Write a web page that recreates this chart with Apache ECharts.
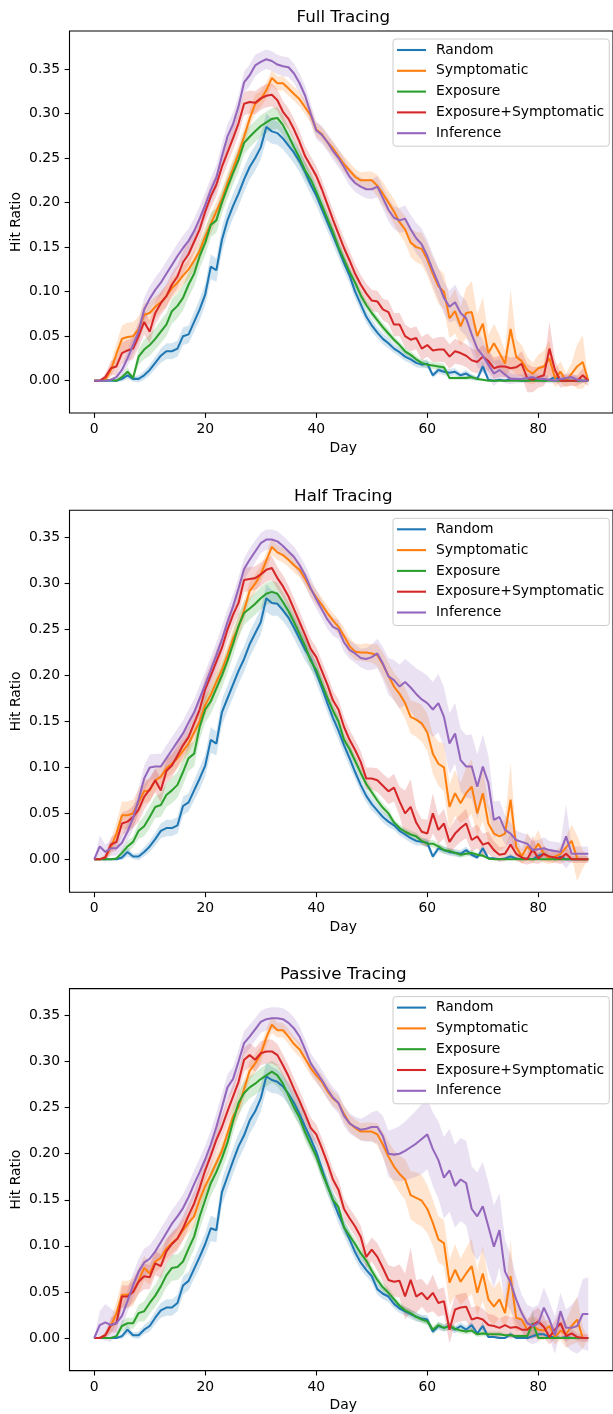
<!DOCTYPE html>
<html><head><meta charset="utf-8">
<script src="https://cdn.jsdelivr.net/npm/echarts@6/dist/echarts.min.js"></script>
<style>html,body{margin:0;padding:0;background:#fff}#c{width:613px;height:1414px}</style>
</head><body><div id="c"></div>
<script>
const days = [0,1,2,3,4,5,6,7,8,9,10,11,12,13,14,15,16,17,18,19,20,21,22,23,24,25,26,27,28,29,30,31,32,33,34,35,36,37,38,39,40,41,42,43,44,45,46,47,48,49,50,51,52,53,54,55,56,57,58,59,60,61,62,63,64,65,66,67,68,69,70,71,72,73,74,75,76,77,78,79,80,81,82,83,84,85,86,87,88,89];
const seriesNames = ['Random','Symptomatic','Exposure','Exposure+Symptomatic','Inference'];
const panelTitles = ['Full Tracing','Half Tracing','Passive Tracing'];
const xTicks = [0,20,40,60,80];
const yTicks = [0,0.05,0.1,0.15,0.2,0.25,0.3,0.35];

// ---------- Full Tracing ----------
const fullRandom = [0,0,0,0,0,0.002,0.006,0.002,0.002,0.006,
0.012,0.02,0.028,0.033,0.033,0.036,0.05,0.052,0.066,0.08,
0.097,0.128,0.124,0.158,0.18,0.196,0.21,0.226,0.24,0.25,
0.262,0.285,0.28,0.278,0.272,0.264,0.256,0.246,0.234,0.22,
0.208,0.193,0.178,0.163,0.148,0.132,0.118,0.1,0.086,0.072,
0.062,0.054,0.047,0.042,0.036,0.032,0.027,0.024,0.02,0.018,
0.019,0.006,0.012,0.01,0.009,0.01,0.006,0.008,0.004,0.002,
0.016,0.001,0,0.001,0,0.002,0.001,0,0,0.001,
0.002,0,0.001,0.004,0.001,0,0,0,0,0];
const fullSym = [0,0,0.001,0.012,0.03,0.047,0.049,0.05,0.058,0.074,
0.076,0.083,0.088,0.095,0.104,0.11,0.118,0.125,0.135,0.146,
0.162,0.176,0.19,0.204,0.222,0.238,0.255,0.274,0.294,0.311,
0.316,0.326,0.34,0.334,0.334,0.328,0.322,0.316,0.307,0.298,
0.282,0.277,0.268,0.261,0.252,0.243,0.236,0.229,0.225,0.225,
0.225,0.219,0.21,0.2,0.19,0.178,0.17,0.155,0.15,0.148,
0.136,0.12,0.106,0.1,0.07,0.078,0.061,0.076,0.077,0.05,
0.064,0.031,0.042,0.031,0.019,0.058,0.027,0.022,0.012,0.008,
0.014,0.016,0.025,0.003,0.01,0,0.008,0.016,0.021,0];
const fullExp = [0,0,0,0.001,0,0.004,0.01,0.003,0.027,0.035,
0.04,0.047,0.055,0.063,0.078,0.084,0.093,0.108,0.12,0.14,
0.155,0.175,0.18,0.2,0.217,0.233,0.248,0.267,0.274,0.28,
0.286,0.29,0.294,0.295,0.287,0.275,0.262,0.25,0.236,0.226,
0.212,0.197,0.182,0.167,0.15,0.136,0.122,0.11,0.096,0.085,
0.076,0.068,0.06,0.053,0.046,0.04,0.033,0.029,0.024,0.02,
0.018,0.017,0.016,0.015,0.003,0.003,0.003,0.003,0.004,0.002,
0.001,0,0,0,0,0,0,0,0,0,
0,0,0,0,0,0,0,0,0,0];
const fullExpSym = [0,0,0.004,0.014,0.016,0.031,0.034,0.036,0.05,0.066,
0.055,0.076,0.087,0.095,0.108,0.117,0.133,0.142,0.156,0.17,
0.19,0.207,0.22,0.24,0.256,0.272,0.289,0.311,0.313,0.312,
0.317,0.32,0.321,0.315,0.302,0.294,0.282,0.268,0.252,0.241,
0.23,0.215,0.198,0.181,0.165,0.149,0.135,0.12,0.108,0.098,
0.09,0.089,0.08,0.077,0.063,0.063,0.05,0.046,0.048,0.036,
0.04,0.034,0.035,0.035,0.027,0.033,0.031,0.028,0.023,0.021,
0.027,0.022,0.014,0.016,0.016,0.014,0.015,0.019,0.003,0.001,
0.004,0.006,0.036,0.012,0,0,0,0,0.006,0];
const fullInf = [0,0,0,0.001,0.004,0.012,0.025,0.04,0.055,0.08,
0.092,0.102,0.11,0.12,0.13,0.14,0.149,0.157,0.168,0.182,
0.197,0.214,0.228,0.252,0.274,0.288,0.308,0.335,0.343,0.354,
0.358,0.361,0.359,0.355,0.353,0.352,0.345,0.334,0.32,0.3,
0.281,0.276,0.268,0.258,0.25,0.24,0.229,0.222,0.218,0.215,
0.215,0.218,0.205,0.192,0.183,0.18,0.182,0.17,0.16,0.153,
0.14,0.124,0.109,0.093,0.083,0.088,0.076,0.07,0.052,0.036,
0.028,0.018,0.008,0.012,0.007,0.002,0.002,0.002,0.003,0.004,
0.002,0.002,0.001,0,0.002,0.003,0.004,0.001,0,0];

const fullRandomErr = [0,0,0,0,0.001,0.003,0.004,0.003,0.004,0.005,
0.006,0.007,0.008,0.009,0.009,0.009,0.01,0.01,0.011,0.012,
0.012,0.014,0.013,0.014,0.014,0.014,0.014,0.014,0.014,0.014,
0.014,0.015,0.014,0.013,0.012,0.012,0.012,0.012,0.012,0.011,
0.011,0.011,0.01,0.01,0.01,0.009,0.009,0.008,0.008,0.007,
0.007,0.006,0.006,0.006,0.005,0.005,0.005,0.005,0.005,0.004,
0.005,0.003,0.004,0.004,0.004,0.004,0.003,0.004,0.003,0.002,
0.006,0.001,0.001,0.001,0.001,0.002,0.001,0.001,0.001,0.001,
0.002,0.001,0.001,0.003,0.001,0,0,0,0,0];
const fullSymErr = [0,0,0.001,0.008,0.012,0.015,0.016,0.016,0.014,0.013,
0.012,0.012,0.011,0.011,0.011,0.011,0.011,0.011,0.011,0.011,
0.011,0.011,0.011,0.011,0.011,0.011,0.011,0.011,0.01,0.01,
0.009,0.009,0.009,0.008,0.008,0.008,0.008,0.008,0.008,0.008,
0.008,0.008,0.008,0.008,0.008,0.009,0.009,0.009,0.009,0.01,
0.01,0.012,0.013,0.013,0.014,0.014,0.015,0.016,0.017,0.018,
0.018,0.018,0.02,0.02,0.022,0.025,0.022,0.028,0.035,0.025,
0.03,0.02,0.022,0.02,0.015,0.045,0.02,0.018,0.015,0.012,
0.015,0.018,0.02,0.01,0.012,0.008,0.012,0.025,0.03,0];
const fullExpErr = [0,0,0,0.001,0.001,0.003,0.005,0.003,0.009,0.011,
0.012,0.012,0.013,0.013,0.014,0.014,0.014,0.014,0.014,0.014,
0.014,0.014,0.014,0.013,0.013,0.013,0.013,0.013,0.012,0.012,
0.012,0.012,0.012,0.012,0.011,0.01,0.01,0.009,0.009,0.009,
0.008,0.008,0.008,0.007,0.007,0.007,0.006,0.006,0.006,0.005,
0.005,0.005,0.005,0.005,0.004,0.004,0.004,0.004,0.004,0.004,
0.004,0.004,0.004,0.004,0.002,0.002,0.002,0.002,0.003,0.002,
0.001,0,0,0,0,0,0,0,0,0,
0,0,0,0,0,0,0,0,0,0];
const fullExpSymErr = [0,0,0.004,0.008,0.01,0.012,0.012,0.012,0.013,0.014,
0.013,0.013,0.013,0.013,0.013,0.013,0.013,0.013,0.013,0.013,
0.013,0.013,0.013,0.013,0.013,0.013,0.013,0.013,0.013,0.013,
0.013,0.013,0.013,0.012,0.012,0.012,0.012,0.012,0.011,0.011,
0.011,0.011,0.011,0.011,0.011,0.011,0.011,0.011,0.011,0.011,
0.012,0.012,0.012,0.013,0.013,0.013,0.013,0.013,0.013,0.013,
0.013,0.013,0.014,0.014,0.014,0.014,0.013,0.013,0.013,0.013,
0.013,0.012,0.012,0.012,0.012,0.012,0.012,0.014,0.016,0.014,
0.012,0.012,0.03,0.012,0.008,0.006,0.006,0.006,0.008,0.006];
const fullInfErr = [0,0,0,0.001,0.003,0.006,0.009,0.011,0.012,0.013,
0.014,0.014,0.014,0.014,0.014,0.014,0.014,0.014,0.014,0.014,
0.014,0.014,0.014,0.014,0.014,0.013,0.012,0.012,0.012,0.012,
0.011,0.011,0.011,0.011,0.011,0.011,0.011,0.011,0.011,0.011,
0.01,0.01,0.01,0.01,0.01,0.01,0.01,0.01,0.01,0.01,
0.011,0.012,0.012,0.013,0.013,0.014,0.015,0.016,0.017,0.018,
0.018,0.018,0.018,0.018,0.018,0.02,0.02,0.02,0.02,0.02,
0.018,0.016,0.014,0.012,0.01,0.006,0.005,0.005,0.005,0.005,
0.005,0.005,0.004,0.003,0.004,0.005,0.005,0.004,0.003,0];

// ---------- Half Tracing ----------
const halfRandom = [0,0,0,0,0,0.002,0.008,0.003,0.003,0.008,
0.014,0.022,0.031,0.034,0.034,0.037,0.058,0.062,0.075,0.088,
0.102,0.13,0.126,0.16,0.175,0.19,0.205,0.218,0.234,0.246,
0.258,0.284,0.279,0.278,0.271,0.263,0.252,0.24,0.228,0.218,
0.203,0.187,0.17,0.154,0.14,0.124,0.11,0.095,0.081,0.069,
0.06,0.053,0.046,0.041,0.037,0.031,0.027,0.023,0.02,0.019,
0.018,0.003,0.012,0.01,0.008,0.007,0.006,0.01,0.005,0.002,
0.012,0.001,0.001,0,0.001,0.003,0.001,0,0.001,0,
0.004,0.006,0.002,0,0.003,0,0,0,0,0];
const halfSym = [0,0,0.002,0.013,0.028,0.048,0.048,0.05,0.062,0.074,
0.075,0.086,0.09,0.099,0.104,0.11,0.118,0.126,0.138,0.15,
0.168,0.179,0.193,0.206,0.222,0.24,0.253,0.271,0.292,0.3,
0.31,0.325,0.34,0.334,0.331,0.326,0.32,0.315,0.305,0.294,
0.285,0.277,0.268,0.26,0.253,0.243,0.232,0.226,0.225,0.225,
0.224,0.222,0.212,0.2,0.188,0.18,0.17,0.155,0.152,0.148,
0.138,0.115,0.104,0.1,0.057,0.072,0.061,0.072,0.079,0.05,
0.072,0.039,0.028,0.025,0.028,0.065,0.014,0.003,0.014,0.008,
0.017,0.006,0.001,0.003,0.006,0.013,0.02,0.001,0,0];
const halfExp = [0,0,0,0,0.001,0.007,0.014,0.019,0.031,0.036,
0.046,0.057,0.059,0.07,0.075,0.081,0.095,0.11,0.115,0.144,
0.163,0.172,0.186,0.2,0.216,0.234,0.254,0.268,0.273,0.278,
0.284,0.289,0.291,0.289,0.28,0.27,0.258,0.245,0.232,0.216,
0.206,0.191,0.176,0.162,0.15,0.13,0.12,0.107,0.094,0.082,
0.073,0.064,0.056,0.05,0.04,0.034,0.03,0.027,0.025,0.02,
0.017,0.017,0.014,0.01,0.009,0.007,0.005,0.006,0.007,0.005,
0.004,0.001,0,0,0,0,0,0,0,0,
0,0,0,0,0,0,0,0,0,0];
const halfExpSym = [0,0,0.002,0.016,0.019,0.039,0.041,0.046,0.054,0.068,
0.076,0.086,0.075,0.096,0.102,0.113,0.124,0.133,0.148,0.163,
0.185,0.2,0.215,0.23,0.25,0.266,0.279,0.304,0.305,0.306,
0.31,0.315,0.317,0.306,0.297,0.286,0.272,0.258,0.244,0.229,
0.22,0.205,0.19,0.173,0.163,0.144,0.13,0.119,0.106,0.088,
0.088,0.086,0.08,0.074,0.078,0.063,0.05,0.057,0.04,0.03,
0.028,0.05,0.032,0.039,0.019,0.028,0.034,0.039,0.021,0.025,
0.016,0.018,0.01,0.005,0.006,0.016,0.006,0.002,0,0.011,
0.001,0.006,0.003,0.002,0.001,0.006,0,0,0,0];
const halfInf = [0,0.014,0.008,0.012,0.012,0.018,0.03,0.045,0.065,0.088,
0.1,0.101,0.101,0.11,0.119,0.128,0.137,0.149,0.16,0.175,
0.19,0.206,0.222,0.239,0.258,0.275,0.295,0.316,0.326,0.335,
0.344,0.348,0.348,0.346,0.341,0.335,0.329,0.32,0.309,0.295,
0.283,0.272,0.261,0.253,0.25,0.236,0.228,0.224,0.219,0.218,
0.22,0.224,0.213,0.199,0.195,0.188,0.193,0.187,0.18,0.174,
0.17,0.163,0.17,0.155,0.126,0.137,0.108,0.101,0.101,0.079,
0.101,0.083,0.043,0.046,0.032,0.028,0.021,0.019,0.017,0.01,
0.011,0.012,0.01,0.009,0.008,0.025,0.006,0.006,0.006,0.006];

const halfRandomErr = [0,0,0,0,0.001,0.003,0.005,0.003,0.004,0.005,
0.006,0.007,0.008,0.009,0.009,0.009,0.01,0.01,0.011,0.012,
0.012,0.014,0.013,0.014,0.014,0.014,0.014,0.014,0.014,0.014,
0.014,0.015,0.014,0.013,0.012,0.012,0.012,0.012,0.012,0.011,
0.011,0.011,0.01,0.01,0.01,0.009,0.009,0.008,0.008,0.007,
0.007,0.006,0.006,0.006,0.005,0.005,0.005,0.005,0.005,0.004,
0.005,0.003,0.004,0.004,0.004,0.004,0.004,0.004,0.003,0.002,
0.005,0.001,0.001,0.001,0.001,0.003,0.001,0.001,0.001,0.001,
0.003,0.004,0.002,0.001,0.003,0.001,0,0,0,0];
const halfSymErr = [0,0,0.002,0.008,0.012,0.015,0.015,0.015,0.014,0.013,
0.012,0.012,0.011,0.011,0.011,0.011,0.011,0.011,0.011,0.011,
0.011,0.011,0.011,0.011,0.011,0.011,0.011,0.011,0.01,0.01,
0.009,0.009,0.009,0.008,0.008,0.008,0.008,0.008,0.008,0.008,
0.008,0.008,0.008,0.008,0.008,0.009,0.009,0.009,0.009,0.01,
0.01,0.012,0.013,0.014,0.015,0.016,0.017,0.018,0.019,0.02,
0.02,0.022,0.024,0.026,0.025,0.025,0.022,0.028,0.03,0.025,
0.03,0.02,0.018,0.016,0.015,0.04,0.012,0.008,0.015,0.012,
0.015,0.01,0.006,0.006,0.008,0.012,0.018,0.025,0.01,0];
const halfExpErr = [0,0,0,0,0.001,0.004,0.006,0.006,0.009,0.011,
0.012,0.012,0.013,0.013,0.014,0.014,0.014,0.014,0.014,0.014,
0.014,0.014,0.014,0.013,0.013,0.013,0.013,0.013,0.012,0.012,
0.012,0.012,0.012,0.012,0.011,0.01,0.01,0.009,0.009,0.009,
0.008,0.008,0.008,0.007,0.007,0.007,0.006,0.006,0.006,0.005,
0.005,0.005,0.005,0.005,0.004,0.004,0.004,0.004,0.004,0.004,
0.004,0.004,0.004,0.004,0.003,0.003,0.003,0.003,0.003,0.002,
0.002,0.001,0,0,0,0,0,0,0,0,
0,0,0,0,0,0,0,0,0,0];
const halfExpSymErr = [0,0,0.004,0.008,0.01,0.012,0.012,0.012,0.013,0.014,
0.013,0.013,0.013,0.013,0.013,0.013,0.013,0.013,0.013,0.013,
0.013,0.013,0.013,0.013,0.013,0.013,0.013,0.013,0.013,0.013,
0.013,0.013,0.013,0.012,0.012,0.012,0.012,0.012,0.011,0.011,
0.011,0.011,0.011,0.011,0.011,0.011,0.011,0.011,0.012,0.012,
0.012,0.013,0.013,0.014,0.015,0.016,0.025,0.03,0.015,0.014,
0.015,0.022,0.015,0.016,0.014,0.015,0.015,0.016,0.013,0.013,
0.012,0.012,0.01,0.008,0.008,0.012,0.008,0.006,0.006,0.015,
0.006,0.008,0.006,0.006,0.006,0.008,0.004,0.004,0.004,0.004];
const halfInfErr = [0,0.012,0.008,0.008,0.008,0.009,0.01,0.012,0.013,0.014,
0.014,0.014,0.014,0.014,0.014,0.014,0.014,0.014,0.014,0.014,
0.014,0.014,0.014,0.014,0.014,0.013,0.012,0.012,0.012,0.012,
0.011,0.011,0.011,0.011,0.011,0.011,0.011,0.011,0.011,0.011,
0.01,0.01,0.01,0.01,0.01,0.01,0.01,0.01,0.01,0.012,
0.014,0.016,0.018,0.02,0.022,0.024,0.025,0.026,0.028,0.03,
0.03,0.03,0.032,0.032,0.033,0.033,0.034,0.034,0.035,0.035,
0.035,0.03,0.02,0.018,0.016,0.012,0.01,0.01,0.01,0.01,
0.01,0.012,0.01,0.01,0.01,0.035,0.008,0.008,0.008,0.008];

// ---------- Passive Tracing ----------
const passRandom = [0,0,0,0,0,0.002,0.009,0.003,0.003,0.009,
0.013,0.022,0.03,0.033,0.033,0.038,0.057,0.062,0.075,0.088,
0.102,0.119,0.117,0.158,0.175,0.192,0.208,0.22,0.236,0.246,
0.26,0.284,0.28,0.278,0.273,0.265,0.255,0.243,0.229,0.216,
0.202,0.184,0.166,0.15,0.134,0.12,0.107,0.093,0.082,0.074,
0.067,0.053,0.048,0.045,0.037,0.032,0.029,0.026,0.023,0.021,
0.02,0.007,0.013,0.011,0.013,0.009,0.013,0.009,0.014,0.005,
0.013,0.001,0.001,0,0,0.004,0,0,0,0.002,
0.004,0.004,0.001,0.001,0,0.001,0,0,0,0];
const passSym = [0,0,0.003,0.013,0.027,0.047,0.047,0.05,0.062,0.076,
0.07,0.083,0.087,0.097,0.103,0.108,0.117,0.125,0.132,0.15,
0.165,0.177,0.19,0.203,0.222,0.24,0.251,0.27,0.29,0.298,
0.308,0.326,0.34,0.334,0.334,0.327,0.319,0.313,0.303,0.293,
0.285,0.278,0.268,0.26,0.255,0.243,0.233,0.228,0.224,0.224,
0.224,0.221,0.21,0.197,0.186,0.178,0.172,0.155,0.152,0.149,
0.14,0.125,0.107,0.103,0.06,0.074,0.061,0.07,0.078,0.049,
0.07,0.042,0.034,0.042,0.027,0.067,0.022,0.02,0.009,0.013,
0.009,0.008,0.013,0.001,0.008,0.004,0.013,0.02,0,0];
const passExp = [0,0,0,0,0.002,0.013,0.016,0.016,0.027,0.029,
0.038,0.046,0.056,0.068,0.076,0.077,0.083,0.097,0.11,0.132,
0.15,0.168,0.18,0.195,0.212,0.235,0.255,0.266,0.272,0.276,
0.281,0.285,0.289,0.285,0.276,0.263,0.25,0.239,0.223,0.21,
0.197,0.18,0.165,0.15,0.142,0.12,0.111,0.102,0.092,0.084,
0.073,0.063,0.055,0.049,0.042,0.035,0.03,0.027,0.023,0.02,
0.018,0.009,0.014,0.011,0.013,0.01,0.008,0.007,0.008,0.004,
0.005,0.004,0.004,0.004,0.003,0.003,0.002,0.002,0.002,0.016,
0,0,0,0,0,0,0,0,0,0];
const passExpSym = [0,0,0.003,0.014,0.016,0.045,0.045,0.05,0.061,0.067,
0.066,0.081,0.078,0.094,0.102,0.108,0.119,0.133,0.146,0.163,
0.182,0.198,0.215,0.229,0.246,0.262,0.278,0.302,0.307,0.302,
0.309,0.311,0.311,0.307,0.296,0.284,0.27,0.257,0.243,0.228,
0.221,0.206,0.19,0.172,0.161,0.14,0.13,0.121,0.11,0.088,
0.096,0.088,0.076,0.063,0.061,0.062,0.045,0.063,0.045,0.049,
0.042,0.049,0.038,0.04,0.009,0.031,0.033,0.034,0.02,0.022,
0.02,0.014,0.013,0.011,0.014,0.011,0.012,0.009,0.009,0.014,
0.018,0.012,0.001,0.009,0.016,0.002,0.005,0.001,0,0];
const passInf = [0,0.014,0.017,0.014,0.016,0.024,0.04,0.057,0.072,0.082,
0.086,0.094,0.104,0.114,0.124,0.132,0.141,0.153,0.167,0.18,
0.194,0.21,0.229,0.25,0.272,0.281,0.3,0.32,0.327,0.335,
0.343,0.346,0.347,0.347,0.346,0.342,0.336,0.327,0.313,0.298,
0.289,0.28,0.27,0.261,0.255,0.241,0.233,0.229,0.226,0.227,
0.229,0.229,0.219,0.2,0.199,0.2,0.203,0.207,0.211,0.216,
0.221,0.205,0.193,0.174,0.182,0.165,0.172,0.168,0.14,0.132,
0.143,0.121,0.099,0.117,0.072,0.06,0.042,0.027,0.016,0.013,
0.016,0.033,0.02,0.003,0.029,0.011,0.011,0.013,0.026,0.026];

const passRandomErr = [0,0,0,0,0.001,0.003,0.005,0.003,0.004,0.005,
0.006,0.007,0.008,0.009,0.009,0.009,0.01,0.01,0.011,0.012,
0.012,0.014,0.013,0.014,0.014,0.014,0.014,0.014,0.014,0.014,
0.014,0.015,0.014,0.013,0.012,0.012,0.012,0.012,0.012,0.011,
0.011,0.011,0.01,0.01,0.01,0.009,0.009,0.008,0.008,0.007,
0.007,0.006,0.006,0.006,0.005,0.005,0.005,0.005,0.005,0.004,
0.005,0.003,0.004,0.004,0.004,0.004,0.004,0.004,0.004,0.002,
0.005,0.001,0.001,0.001,0.001,0.003,0.001,0.001,0.001,0.002,
0.003,0.003,0.002,0.001,0.001,0.001,0,0,0,0];
const passSymErr = [0,0,0.002,0.008,0.012,0.015,0.015,0.015,0.014,0.013,
0.012,0.012,0.011,0.011,0.011,0.011,0.011,0.011,0.011,0.011,
0.011,0.011,0.011,0.011,0.011,0.011,0.011,0.011,0.01,0.01,
0.009,0.009,0.009,0.008,0.008,0.008,0.008,0.008,0.008,0.008,
0.008,0.008,0.008,0.008,0.008,0.009,0.009,0.009,0.009,0.01,
0.01,0.012,0.014,0.016,0.018,0.02,0.022,0.026,0.028,0.028,
0.026,0.025,0.025,0.025,0.025,0.028,0.025,0.028,0.03,0.025,
0.03,0.022,0.02,0.02,0.015,0.04,0.015,0.012,0.012,0.01,
0.012,0.01,0.008,0.008,0.01,0.015,0.02,0.025,0.012,0];
const passExpErr = [0,0,0,0,0.002,0.006,0.006,0.006,0.009,0.011,
0.012,0.012,0.013,0.013,0.014,0.014,0.014,0.014,0.014,0.014,
0.014,0.014,0.014,0.013,0.013,0.013,0.013,0.013,0.012,0.012,
0.012,0.012,0.012,0.012,0.011,0.01,0.01,0.009,0.009,0.009,
0.008,0.008,0.008,0.007,0.007,0.007,0.006,0.006,0.006,0.005,
0.005,0.005,0.005,0.005,0.004,0.004,0.004,0.004,0.004,0.004,
0.004,0.004,0.004,0.004,0.004,0.003,0.003,0.003,0.003,0.003,
0.003,0.003,0.003,0.003,0.002,0.002,0.002,0.002,0.002,0.015,
0,0,0,0,0,0,0,0,0,0];
const passExpSymErr = [0,0,0.004,0.008,0.01,0.012,0.012,0.012,0.013,0.014,
0.013,0.013,0.013,0.013,0.013,0.013,0.013,0.013,0.013,0.013,
0.013,0.013,0.013,0.013,0.013,0.013,0.013,0.013,0.013,0.013,
0.013,0.013,0.013,0.012,0.012,0.012,0.012,0.012,0.011,0.011,
0.011,0.011,0.011,0.011,0.011,0.011,0.011,0.011,0.012,0.012,
0.013,0.015,0.015,0.016,0.016,0.018,0.025,0.035,0.018,0.015,
0.015,0.02,0.015,0.015,0.015,0.015,0.015,0.015,0.013,0.013,
0.012,0.012,0.012,0.01,0.01,0.012,0.01,0.01,0.01,0.015,
0.015,0.012,0.008,0.01,0.015,0.006,0.005,0.004,0.004,0.004];
const passInfErr = [0,0.015,0.02,0.018,0.012,0.012,0.012,0.013,0.014,0.015,
0.015,0.015,0.015,0.015,0.015,0.015,0.015,0.015,0.015,0.015,
0.015,0.015,0.015,0.015,0.014,0.013,0.013,0.013,0.013,0.012,
0.012,0.012,0.012,0.012,0.012,0.012,0.012,0.011,0.011,0.011,
0.011,0.011,0.011,0.011,0.011,0.011,0.011,0.011,0.012,0.014,
0.016,0.018,0.022,0.025,0.028,0.03,0.032,0.034,0.036,0.038,
0.038,0.04,0.042,0.044,0.045,0.045,0.045,0.046,0.046,0.048,
0.048,0.048,0.045,0.04,0.035,0.03,0.025,0.02,0.02,0.02,
0.02,0.022,0.02,0.02,0.02,0.02,0.025,0.03,0.038,0.04];

const panelMeans = [
  [fullRandom, fullSym, fullExp, fullExpSym, fullInf],
  [halfRandom, halfSym, halfExp, halfExpSym, halfInf],
  [passRandom, passSym, passExp, passExpSym, passInf]
];
const panelErrs = [
  [fullRandomErr, fullSymErr, fullExpErr, fullExpSymErr, fullInfErr],
  [halfRandomErr, halfSymErr, halfExpErr, halfExpSymErr, halfInfErr],
  [passRandomErr, passSymErr, passExpErr, passExpSymErr, passInfErr]
];

// ---------- layout / style ----------
const COLORS = ['#1f77b4','#ff7f0e','#2ca02c','#d62728','#9467bd'];
const FONT = 'DejaVu Sans';
const GRID_LEFT = 69.5, GRID_W = 547.6, GRID_H = 382;
const GRID_TOPS = [31, 510.3, 988.6];
const Y_RANGES = [[-0.0363, 0.3927], [-0.0359, 0.3798], [-0.0354, 0.3792]];
const X_MIN = -4.45, X_MAX = 93.45;
const cx = GRID_LEFT + GRID_W / 2;

function bandRenderer(rows, color) {
  return function (params, api) {
    if (params.dataIndex !== 0) return null;
    const upper = rows.map(r => api.coord([r[0], r[2]]));
    const lower = rows.map(r => api.coord([r[0], r[1]])).reverse();
    return {type: 'polygon', shape: {points: upper.concat(lower)},
      style: {fill: color, opacity: 0.2, stroke: null, lineWidth: 0}, silent: true};
  };
}

const grids = [], xAxes = [], yAxes = [], series = [], legends = [], graphics = [];
for (let p = 0; p < 3; p++) {
  const top = GRID_TOPS[p];
  grids.push({left: GRID_LEFT, top: top, width: GRID_W, height: GRID_H, show: true,
    borderColor: '#000', borderWidth: 1.1, backgroundColor: 'transparent', containLabel: false});
  xAxes.push({type: 'value', gridIndex: p, min: X_MIN, max: X_MAX,
    axisLine: {show: false, onZero: false}, splitLine: {show: false},
    axisTick: {show: true, length: 4.9, inside: false, customValues: xTicks, lineStyle: {color: '#000', width: 1.1}},
    axisLabel: {show: true, margin: 9.5, customValues: xTicks, color: '#000', fontFamily: FONT, fontSize: 13.9}});
  yAxes.push({type: 'value', gridIndex: p, min: Y_RANGES[p][0], max: Y_RANGES[p][1],
    axisLine: {show: false, onZero: false}, splitLine: {show: false},
    axisTick: {show: true, length: 4.9, inside: false, customValues: yTicks, lineStyle: {color: '#000', width: 1.1}},
    axisLabel: {show: true, margin: 9.5, customValues: yTicks, color: '#000', fontFamily: FONT, fontSize: 13.9,
      formatter: v => v.toFixed(2)}});
  // confidence bands (beneath all lines)
  for (let s = 0; s < 5; s++) {
    const m = panelMeans[p][s], e = panelErrs[p][s];
    const rows = days.map(d => [d, m[d] - e[d], m[d] + e[d]]);
    series.push({type: 'custom', name: seriesNames[s] + ' band', xAxisIndex: p, yAxisIndex: p,
      coordinateSystem: 'cartesian2d', z: 1, silent: true, clip: true,
      encode: {x: 0, y: [1, 2]}, data: rows,
      renderItem: bandRenderer(rows, COLORS[s])});
  }
  for (let s = 0; s < 5; s++) {
    series.push({type: 'line', name: seriesNames[s], xAxisIndex: p, yAxisIndex: p,
      symbol: 'none', z: 3, silent: true, emphasis: {disabled: true},
      lineStyle: {color: COLORS[s], width: 2.05}, itemStyle: {color: COLORS[s]},
      data: days.map(d => [d, panelMeans[p][s][d]])});
  }
  legends.push({show: true, orient: 'vertical', left: 393, top: top + 8, data: seriesNames,
    icon: 'rect', itemWidth: 29, itemHeight: 2.1, itemGap: 6.8, padding: [4, 5, 6, 4],
    backgroundColor: 'rgba(255,255,255,0.8)', borderColor: '#cccccc', borderWidth: 1, borderRadius: 3,
    selectedMode: false,
    textStyle: {color: '#000', fontFamily: FONT, fontSize: 13.9, lineHeight: 14, padding: [0, 0, 0, 5]}});
  graphics.push({type: 'text', x: cx, y: top - 13.5, silent: true,
    style: {text: panelTitles[p], fill: '#000', font: '16.7px "DejaVu Sans"', textAlign: 'center', textVerticalAlign: 'middle'}});
  graphics.push({type: 'text', x: cx, y: top + GRID_H + 35, silent: true,
    style: {text: 'Day', fill: '#000', font: '13.9px "DejaVu Sans"', textAlign: 'center', textVerticalAlign: 'middle'}});
  graphics.push({type: 'text', x: 16, y: top + GRID_H / 2, rotation: Math.PI / 2, silent: true,
    style: {text: 'Hit Ratio', fill: '#000', font: '13.9px "DejaVu Sans"', textAlign: 'center', textVerticalAlign: 'middle'}});
}

const chart = echarts.init(document.getElementById('c'), null, {renderer: 'canvas'});
chart.setOption({
  animation: false,
  backgroundColor: '#fff',
  textStyle: {fontFamily: FONT},
  grid: grids, xAxis: xAxes, yAxis: yAxes, legend: legends,
  series: series, graphic: graphics
});
</script></body></html>
